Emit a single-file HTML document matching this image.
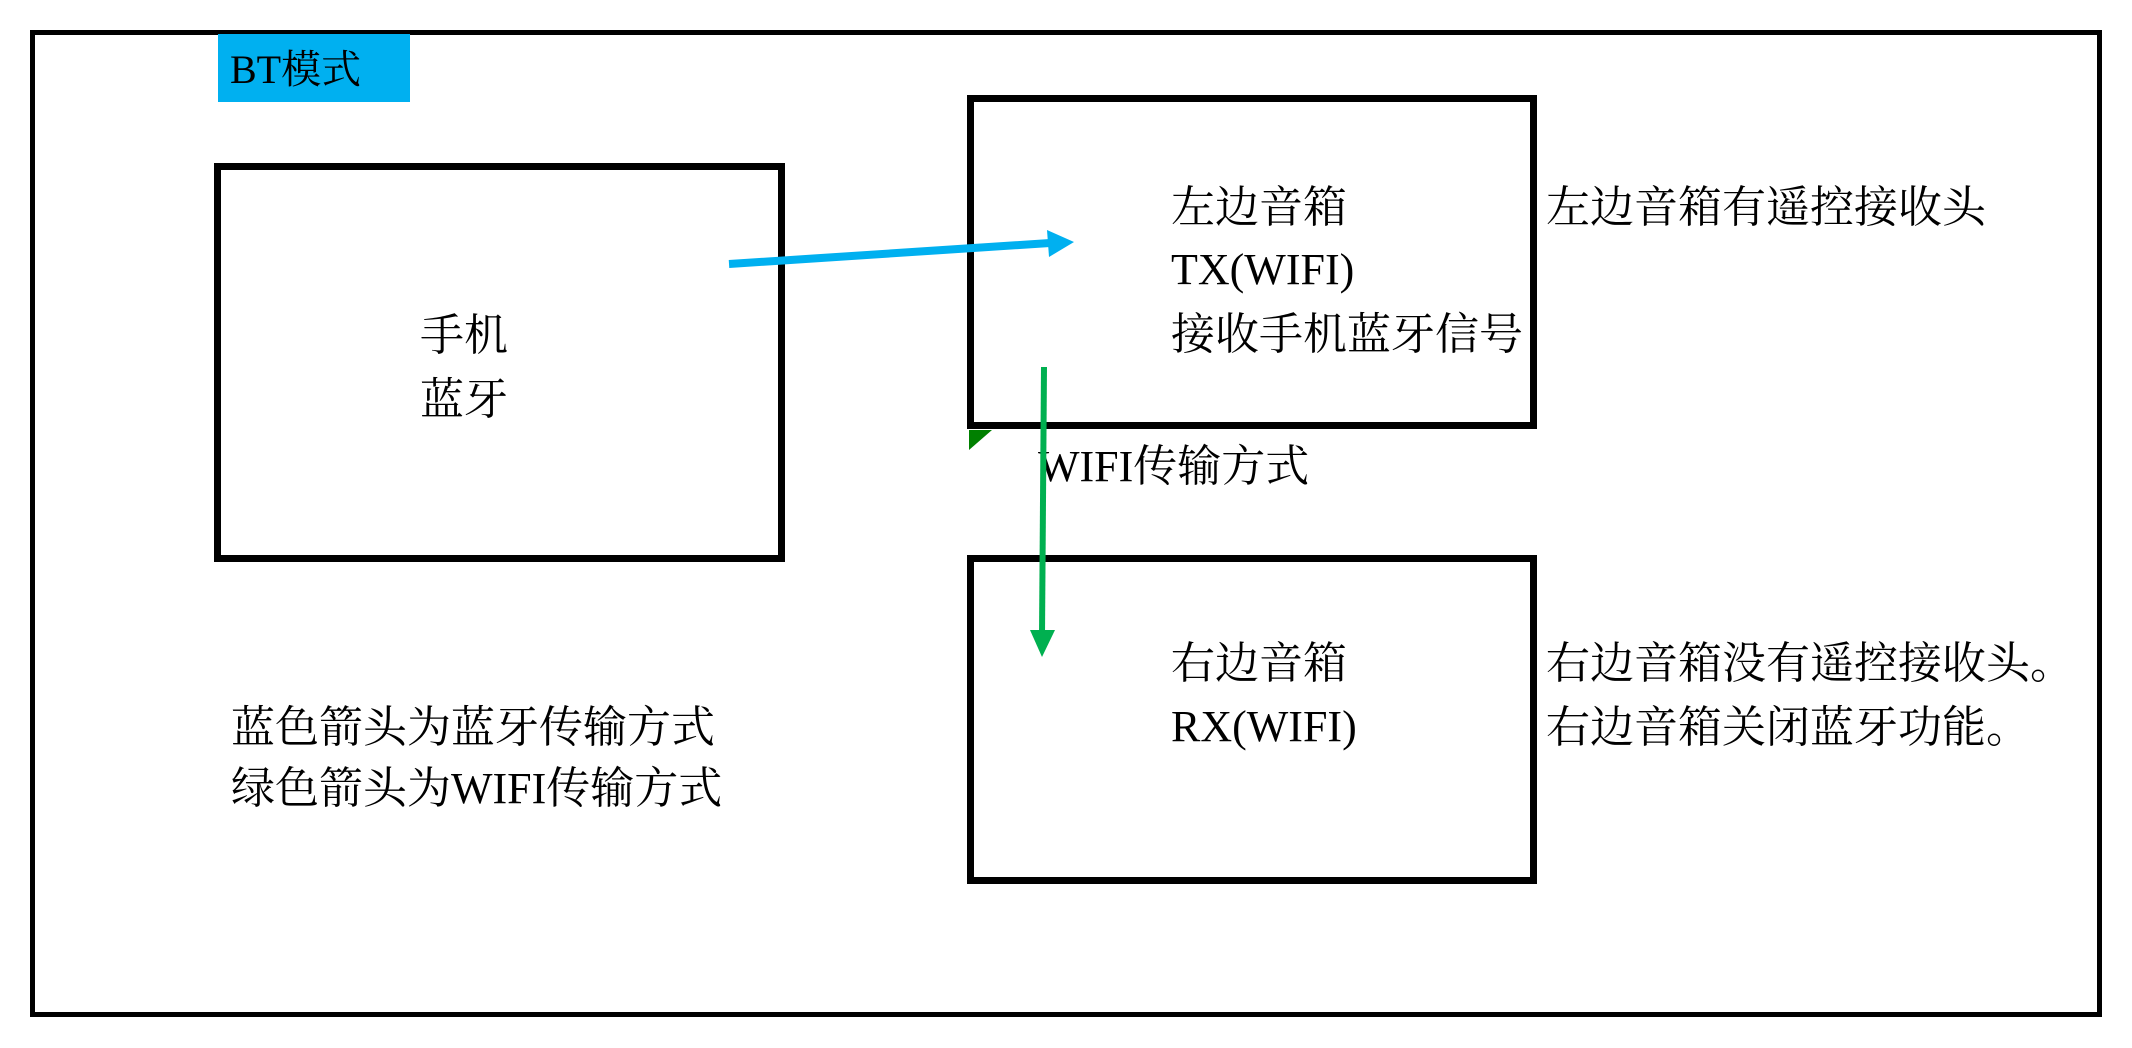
<!DOCTYPE html>
<html><head><meta charset="utf-8"><style>
html,body{margin:0;padding:0;background:#fff;}
body{width:2132px;height:1048px;position:relative;overflow:hidden;font-family:"Liberation Serif","Noto Serif CJK SC",serif;color:#000;}
.t{position:absolute;font-size:44px;line-height:50px;white-space:nowrap;}
.box{position:absolute;border:7px solid #000;box-sizing:border-box;}
</style></head><body>
<div style="position:absolute;left:30px;top:30px;width:2072px;height:987px;border:5px solid #000;box-sizing:border-box;"></div>
<div style="position:absolute;left:218px;top:34px;width:192px;height:68px;background:#00b0f0;"></div>
<div class="t" style="left:230px;top:45px;font-size:40px;">BT模式</div>

<div class="box" style="left:214px;top:163px;width:571px;height:399px;"></div>
<div class="t" style="left:420px;top:311px;">手机</div>
<div class="t" style="left:420px;top:375px;">蓝牙</div>

<div class="box" style="left:967px;top:95px;width:570px;height:334px;"></div>
<div class="t" style="left:1171px;top:183px;">左边音箱</div>
<div class="t" style="left:1171px;top:245px;">TX(WIFI)</div>
<div class="t" style="left:1171px;top:310px;">接收手机蓝牙信号</div>

<div class="box" style="left:967px;top:555px;width:570px;height:329px;"></div>
<div class="t" style="left:1171px;top:639px;">右边音箱</div>
<div class="t" style="left:1171px;top:702px;">RX(WIFI)</div>

<div class="t" style="left:1546px;top:183px;">左边音箱有遥控接收头</div>
<div class="t" style="left:1546px;top:639px;">右边音箱没有遥控接收头。</div>
<div class="t" style="left:1546px;top:703px;">右边音箱关闭蓝牙功能。</div>

<div class="t" style="left:231px;top:703px;">蓝色箭头为蓝牙传输方式</div>
<div class="t" style="left:231px;top:764px;">绿色箭头为WIFI传输方式</div>

<div class="t" style="left:1038px;top:442px;">WIFI传输方式</div>

<svg width="2132" height="1048" style="position:absolute;left:0;top:0;">
  <polygon points="969,430 992,430 969,450" fill="#008000"/>
  <line x1="729" y1="264" x2="1050" y2="243" stroke="#00b0f0" stroke-width="8"/>
  <polygon points="1074,242 1047,230 1049,257" fill="#00b0f0"/>
  <line x1="1044" y1="367" x2="1042" y2="635" stroke="#00b050" stroke-width="6"/>
  <polygon points="1030,630 1055,630 1042,657" fill="#00b050"/>
</svg>
</body></html>
